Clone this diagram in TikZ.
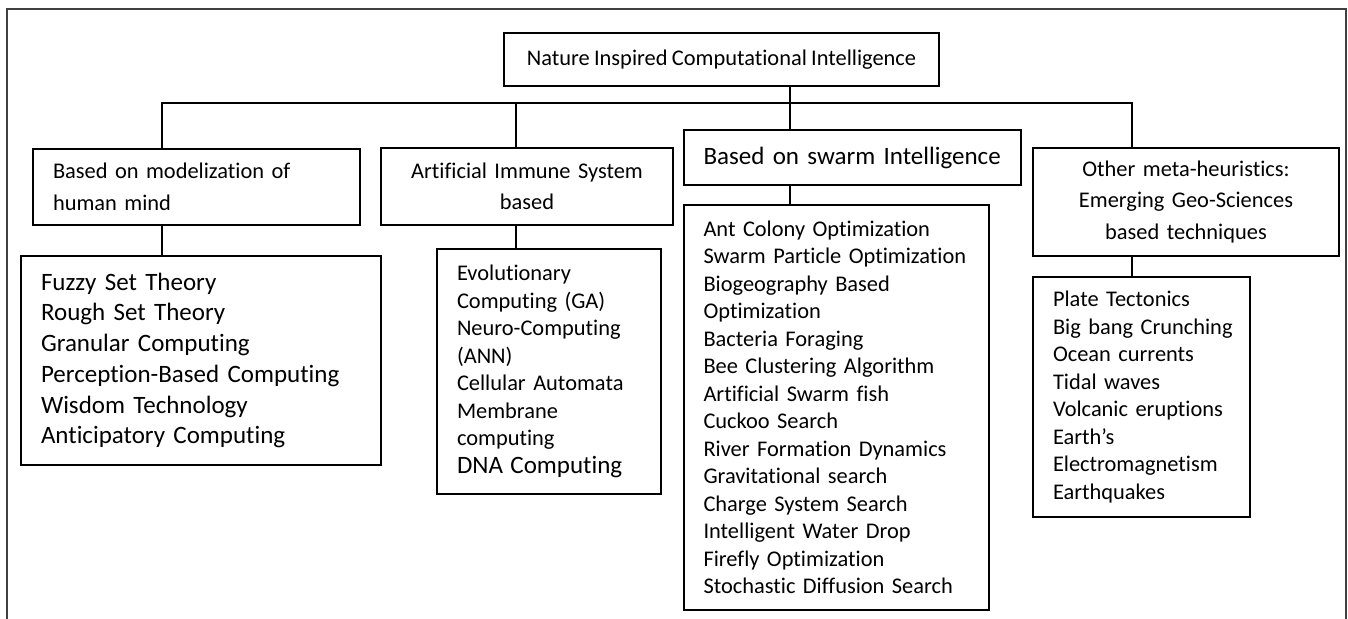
\documentclass[tikz,border=0pt]{standalone}
\usepackage{fontspec}
\setmainfont{Carlito}[Ligatures={NoCommon}, WordSpace=0.85]

\begin{document}
\begin{tikzpicture}[x=0.5pt, y=-0.5pt,
    box/.style={draw, line width=1pt, rectangle, inner ysep=0pt, inner xsep=10pt, anchor=north west},
    headfont/.style={font=\fontsize{11.2}{15.75}\selectfont},
    listfont/.style={font=\fontsize{11.2}{13.75}\selectfont},
    bigfont/.style={font=\fontsize{12.5}{15.35}\selectfont},
    link/.style={line width=0.75pt}]
    \useasboundingbox (0,0) rectangle (1348,619);

    % outer frame (open at the bottom)
    \draw [line width=0.7pt, black!75] (7,619) |- (1346,9) -- (1346,619);

    % top box
    \node [box, headfont, anchor=center, minimum width=217.5pt, minimum height=26.5pt] (root) at (721.5,59.5) {Nature Inspired Computational Intelligence};

    % second level
    \node [box, headfont, text width=143.5pt, align=left, minimum height=38pt] (mind) at (32,148) {\mbox{Based on modelization of}\\human mind};
    \node [box, headfont, text width=126pt, align=center, minimum height=38.5pt] (immune) at (380,147) {\mbox{Artificial Immune System}\\based};
    \node [box, bigfont, text width=148.5pt, align=left, minimum height=27.5pt] (swarm) at (682.5,129) {\mbox{Based on swarm Intelligence}};
    \node [box, headfont, text width=133pt, align=center, minimum height=54pt] (geo) at (1032,147) {\mbox{Other meta-heuristics:}\\\mbox{Emerging Geo-Sciences}\\\mbox{based techniques}};

    % lists
    \node [box, bigfont, text width=160pt, align=left, minimum height=104.5pt] (mindlist) at (20,255) {Fuzzy Set Theory\\Rough Set Theory\\Granular Computing\\\mbox{Perception-Based Computing}\\Wisdom Technology\\Anticipatory Computing};
    \node [box, listfont, text width=92pt, align=left, minimum height=122.5pt] (immunelist) at (436,248) {Evolutionary\\Computing (GA)\\\mbox{Neuro-Computing}\\(ANN)\\\mbox{Cellular Automata}\\Membrane\\computing\\{\fontsize{12.5}{13.75}\selectfont\mbox{DNA Computing}}};
    \node [box, listfont, text width=132.75pt, align=left, minimum height=202.5pt] (swarmlist) at (682.5,204) {\mbox{Ant Colony Optimization}\\\mbox{Swarm Particle Optimization}\\Biogeography Based\\Optimization\\Bacteria Foraging\\\mbox{Bee Clustering Algorithm}\\Artificial Swarm fish\\Cuckoo Search\\\mbox{River Formation Dynamics}\\Gravitational search\\Charge System Search\\Intelligent Water Drop\\Firefly Optimization\\\mbox{Stochastic Diffusion Search}};
    \node [box, listfont, text width=88.5pt, align=left, minimum height=120pt] (geolist) at (1032,276) {Plate Tectonics\\\mbox{Big bang Crunching}\\Ocean currents\\Tidal waves\\\mbox{Volcanic eruptions}\\Earth’s\\\mbox{Electromagnetism}\\Earthquakes};

    % joints on the bus
    \coordinate (j1) at (162,103);
    \coordinate (j2) at (516,103);
    \coordinate (j3) at (790,103);
    \coordinate (j4) at (1132,103);

    % connections
    \draw [link] (j1 |- mind.north) -- (j1) -- (j4) -- (j4 |- geo.north);
    \draw [link] (j2) -- (j2 |- immune.north);
    \draw [link] (j3 |- root.south) -- (j3 |- swarm.north);
    \draw [link] (j1 |- mind.south) -- (j1 |- mindlist.north);
    \draw [link] (j2 |- immune.south) -- (j2 |- immunelist.north);
    \draw [link] (j3 |- swarm.south) -- (j3 |- swarmlist.north);
    \draw [link] (j4 |- geo.south) -- (j4 |- geolist.north);
\end{tikzpicture}
\end{document}
